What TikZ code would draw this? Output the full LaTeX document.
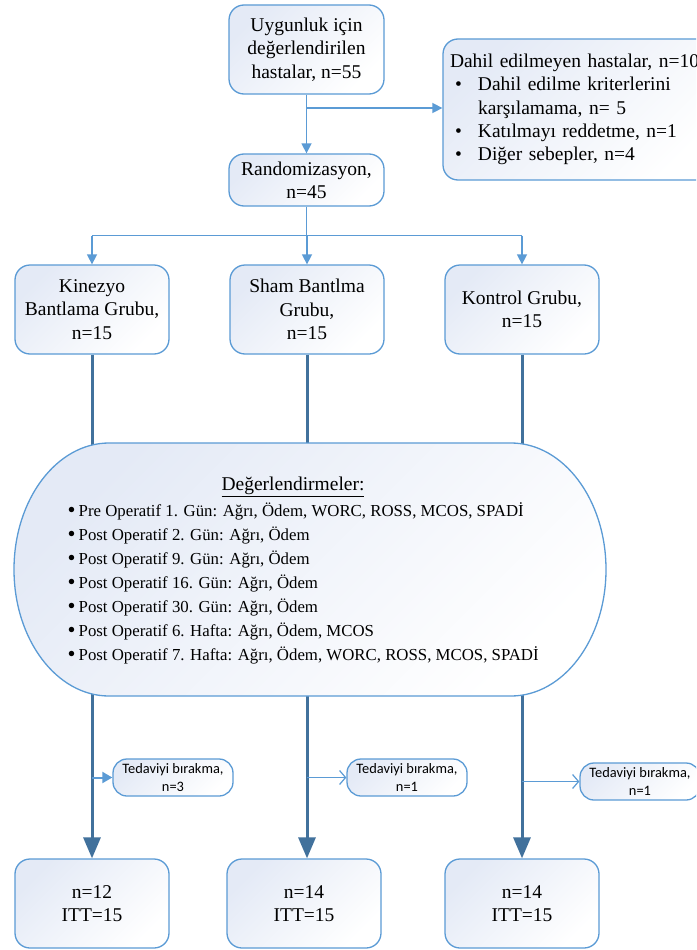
\documentclass[tikz,border=0pt]{standalone}
\usepackage{fontspec}
\setmainfont{Liberation Serif}
\newfontfamily\carlitofont{Carlito}
\usetikzlibrary{arrows.meta,calc}
\definecolor{bdr}{RGB}{91,155,213}
\definecolor{thk}{RGB}{65,113,156}
\definecolor{shd}{RGB}{228,234,246}
\newcommand{\bigbul}{\makebox[11pt][l]{\raisebox{-0.05ex}{\scalebox{1.35}{\textbullet}}}}
\tikzset{
  boxshade/.style={top color=shd, bottom color=white, shading angle=45},
  flowbox/.style={draw=bdr, line width=1.3pt, rounded corners=15pt, boxshade,
    align=center, inner sep=0pt, font=\fontsize{19.5}{23.3}\selectfont},
  smallbox/.style={draw=bdr, line width=1.3pt, rounded corners=14pt, boxshade,
    align=center, inner sep=0pt, minimum width=120pt, minimum height=37pt,
    font=\carlitofont\fontsize{14.4}{18}\selectfont},
  conn/.style={draw=bdr, line width=1.5pt},
  connarrow/.style={conn, -{Triangle[length=10pt,width=10pt]}},
  openarrow/.style={draw=bdr, line width=1.2pt, -{Straight Barb[length=6pt,width=14pt]}},
  thickline/.style={draw=thk, line width=3pt, -{Triangle[length=21pt,width=17pt]}},
}
\begin{document}
\begin{tikzpicture}[x=1pt,y=-1pt]
\path[use as bounding box, clip] (0,0) rectangle (696,950);
\fill[white] (0,0) rectangle (696,950);

% top part
\node[flowbox, minimum width=155pt, minimum height=89pt] (top) at (306.5,49.5)
  {Uygunluk için\\değerlendirilen\\hastalar, n=55};
\node[flowbox, minimum width=277pt, minimum height=141pt, text width=263pt,
  inner xsep=7pt, align=left] (excl) at (581.5,109.5)
  {Dahil edilmeyen hastalar, n=10\\
   \hspace*{5pt}\makebox[23pt][l]{\textbullet}Dahil edilme kriterlerini\\
   \hspace*{28pt}karşılamama, n= 5\\
   \hspace*{5pt}\makebox[23pt][l]{\textbullet}Katılmayı reddetme, n=1\\
   \hspace*{5pt}\makebox[23pt][l]{\textbullet}Diğer sebepler, n=4};
\node[flowbox, minimum width=155pt, minimum height=52pt] (rand) at (306.5,180)
  {Randomizasyon,\\n=45};

% group boxes
\node[flowbox, minimum width=154pt, minimum height=89pt] (k1) at (92,309.5)
  {Kinezyo\\Bantlama Grubu,\\n=15};
\node[flowbox, minimum width=154pt, minimum height=89pt] (k2) at (307,309.5)
  {Sham Bantlma\\Grubu,\\n=15};
\node[flowbox, minimum width=154pt, minimum height=89pt] (k3) at (522,309.5)
  {Kontrol Grubu,\\n=15};

% bottom boxes
\node[flowbox, minimum width=154pt, minimum height=89pt] (b1) at (92,903.5)
  {n=12\\ITT=15};
\node[flowbox, minimum width=154pt, minimum height=89pt] (b2) at (304,903.5)
  {n=14\\ITT=15};
\node[flowbox, minimum width=154pt, minimum height=89pt] (b3) at (522,903.5)
  {n=14\\ITT=15};

% drop-out boxes
\node[smallbox] (t1) at (173,777.5) {Tedaviyi bırakma,\\n=3};
\node[smallbox] (t2) at (407,777.5) {Tedaviyi bırakma,\\n=1};
\node[smallbox] (t3) at (640,781.5) {Tedaviyi bırakma,\\n=1};

% connectors top
\coordinate (br) at (306.5,108);
\coordinate (hub) at (306.5,235.5);
\draw[connarrow] (top.south) -- (rand.north);
\draw[connarrow] (br) -- (br -| excl.west);
\draw[conn] (rand.south) -- (hub);
\draw[conn] (k1.north |- hub) -- (k3.north |- hub);
\draw[connarrow] (k1.north |- hub) -- (k1.north);
\draw[connarrow] (k2.north |- hub) -- (k2.north);
\draw[connarrow] (k3.north |- hub) -- (k3.north);

% thick lines
\draw[thickline] (k1.south) -- (b1.north);
\draw[thickline] (k2.south) -- (k2.south |- b2.north);
\draw[thickline] (k3.south) -- (b3.north);

% evaluation terminator shape
\path[draw=bdr, line width=1.3pt, boxshade]
  (109,443) -- (511,443)
  arc[start angle=90, end angle=-90, x radius=95pt, y radius=126.5pt]
  -- (109,696)
  arc[start angle=270, end angle=90, x radius=95pt, y radius=126.5pt]
  -- cycle;
\node[inner sep=0pt, font=\fontsize{19.5}{23.3}\selectfont] (evh) at (293,487)
  {\underline{Değerlendirmeler:}};
\node[inner sep=0pt, anchor=west, align=left, font=\fontsize{16.8}{24}\selectfont] (evl) at (67.5,583.5)
  {\bigbul Pre Operatif 1. Gün: Ağrı, Ödem, WORC, ROSS, MCOS, SPADİ\\
   \bigbul Post Operatif 2. Gün: Ağrı, Ödem\\
   \bigbul Post Operatif 9. Gün: Ağrı, Ödem\\
   \bigbul Post Operatif 16. Gün: Ağrı, Ödem\\
   \bigbul Post Operatif 30. Gün: Ağrı, Ödem\\
   \bigbul Post Operatif 6. Hafta: Ağrı, Ödem, MCOS\\
   \bigbul Post Operatif 7. Hafta: Ağrı, Ödem, WORC, ROSS, MCOS, SPADİ};

% drop-out arrows
\draw[draw=bdr, line width=2pt, -{Triangle[length=10pt,width=11pt]}] (k1.south |- t1.west) -- (t1.west);
\draw[openarrow] (k2.south |- t2.west) -- (t2.west);
\draw[openarrow] (k3.south |- t3.west) -- (t3.west);
\end{tikzpicture}
\end{document}
